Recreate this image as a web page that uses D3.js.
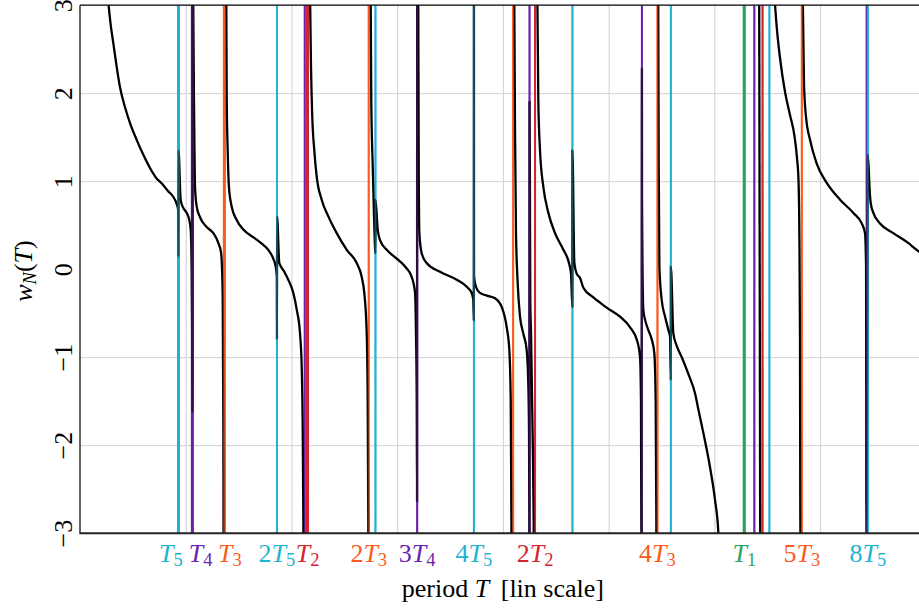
<!DOCTYPE html>
<html>
<head>
<meta charset="utf-8">
<script src="https://cdn.jsdelivr.net/npm/d3@7"></script>
<style>
  body { margin: 0; background: #fff; }
  svg { display: block; font-family: "Liberation Serif", "Times New Roman", serif; }
</style>
</head>
<body>
<svg id="chart" width="919" height="614"></svg>
<script>
// mode periods (T1 = 2*pi)
var modeNames = ["1", "2", "3", "4", "5"];
var periods = [6.283, 2.152, 1.3655, 1.063, 0.9315];
var modeColors = ["#2ea25e", "#d5232f", "#fb5a1c", "#6b22b0", "#1eb4d2"];
var maxMultiple = [1, 3, 5, 7, 8];

// which multiples get a label under the axis: [mode index, multiple]
var xLabels = [[4,1],[3,1],[2,1],[4,2],[1,1],[2,2],[3,3],[4,4],[1,2],[2,4],[0,1],[2,5],[4,8]];

var yTicks = [-3, -2, -1, 0, 1, 2, 3];
var gridT = [1, 2, 3, 4, 5, 6, 7];
var gridW = [-2, -1, 1, 2];

// w_N(T), branch by branch between the poles
var curveBranches = [
  [[0.262,3.1],[0.293,2.75],[0.315,2.57],[0.347,2.30],[0.378,2.07],[0.426,1.84],[0.473,1.66],[0.536,1.47],[0.599,1.30],[0.662,1.15],[0.719,1.04],[0.776,0.97],[0.832,0.89],[0.883,0.82],[0.915,0.74],[0.929,0.67],[0.931,0.14],[0.932,1.35],[0.952,0.79],[0.971,0.71],[1.009,0.64],[1.034,0.56],[1.047,0.45],[1.056,0.03],[1.061,-0.72],[1.063,-1.62],[1.064,3.2]],
  [[1.070,3.2],[1.078,1.92],[1.083,1.35],[1.088,0.93],[1.104,0.71],[1.135,0.59],[1.198,0.48],[1.261,0.41],[1.308,0.30],[1.334,0.19],[1.343,0.02],[1.350,-0.35],[1.353,-1.11],[1.356,-1.86],[1.358,-3.2]],
  [[1.383,3.2],[1.388,1.92],[1.397,1.35],[1.409,0.93],[1.435,0.71],[1.482,0.56],[1.545,0.45],[1.655,0.35],[1.719,0.29],[1.781,0.22],[1.828,0.12],[1.851,0.03],[1.862,-0.09],[1.863,-0.80],[1.864,0.60],[1.885,0.07],[1.923,-0.01],[1.970,-0.12],[2.018,-0.27],[2.050,-0.46],[2.081,-0.73],[2.097,-1.11],[2.107,-1.86],[2.112,-2.77],[2.114,-3.2]],
  [[2.175,3.2],[2.185,2.30],[2.197,1.73],[2.216,1.35],[2.239,1.05],[2.286,0.79],[2.349,0.60],[2.428,0.41],[2.523,0.22],[2.617,0.07],[2.665,-0.09],[2.689,-0.27],[2.712,-0.73],[2.721,-1.49],[2.727,-3.0],[2.728,-3.2]],
  [[2.749,3.2],[2.755,1.92],[2.769,1.16],[2.781,0.60],[2.790,0.26],[2.7945,0.18],[2.795,0.79],[2.816,0.45],[2.838,0.33],[2.901,0.22],[2.996,0.12],[3.074,0.03],[3.138,-0.09],[3.169,-0.27],[3.178,-0.73],[3.185,-1.49],[3.188,-2.64],[3.189,3.2]],
  [[3.199,3.2],[3.204,1.16],[3.210,0.41],[3.232,0.18],[3.279,0.07],[3.405,-0.03],[3.563,-0.12],[3.658,-0.20],[3.705,-0.27],[3.720,-0.35],[3.725,-0.58],[3.726,3.2],[3.727,-0.08],[3.745,-0.20],[3.784,-0.27],[3.847,-0.30],[3.925,-0.33],[3.989,-0.43],[4.036,-0.66],[4.061,-0.92],[4.074,-1.49],[4.080,-2.77],[4.082,-3.2]],
  [[4.107,3.2],[4.115,1.55],[4.124,0.41],[4.140,-0.16],[4.162,-0.54],[4.193,-0.73],[4.225,-0.92],[4.240,-1.29],[4.247,-1.86],[4.250,-2.77],[4.251,-3.2],[4.252,1.90],[4.256,0.79],[4.259,-0.35],[4.266,-0.73],[4.276,-1.49],[4.285,-2.17],[4.292,-3.0],[4.294,-3.2]],
  [[4.325,3.2],[4.335,1.92],[4.351,1.35],[4.382,0.94],[4.430,0.64],[4.493,0.41],[4.572,0.22],[4.625,0.07],[4.644,-0.05],[4.657,-0.43],[4.6575,1.35],[4.676,0.07],[4.698,-0.05],[4.730,-0.10],[4.761,-0.21],[4.855,-0.32],[4.919,-0.38],[4.985,-0.44],[5.108,-0.54],[5.203,-0.66],[5.269,-0.81],[5.297,-1.00],[5.306,-1.49],[5.309,-2.77],[5.311,-3.2],[5.315,2.28],[5.316,0.79],[5.328,-0.46],[5.344,-0.57],[5.375,-0.69],[5.408,-0.80],[5.432,-0.95],[5.445,-1.49],[5.451,-2.77],[5.452,-3.2]],
  [[5.469,3.2],[5.474,1.16],[5.480,0.03],[5.502,-0.35],[5.534,-0.54],[5.565,-0.69],[5.581,-0.77],[5.5885,-1.26],[5.589,0.03],[5.612,-0.73],[5.644,-0.87],[5.692,-1.00],[5.754,-1.19],[5.817,-1.41],[5.850,-1.60],[5.896,-1.86],[5.959,-2.25],[6.006,-2.62],[6.038,-3.0],[6.045,-3.2]],
  [[6.424,3.2],[6.434,-3.2]],
  [[6.563,3.2],[6.590,2.75],[6.621,2.40],[6.669,2.01],[6.716,1.75],[6.757,1.52],[6.782,1.26],[6.796,1.01],[6.804,0.41],[6.810,-0.73],[6.813,-2.77],[6.815,-3.2]],
  [[6.835,3.2],[6.848,2.11],[6.867,1.73],[6.905,1.47],[6.968,1.20],[7.063,0.98],[7.189,0.79],[7.315,0.64],[7.394,0.52],[7.425,0.41],[7.435,0.03],[7.437,-1.49],[7.438,-3.2],[7.452,1.30],[7.469,0.90],[7.479,0.75],[7.504,0.64],[7.567,0.52],[7.693,0.41],[7.820,0.31],[7.936,0.20],[8.0,0.15]]
];

var svg = d3.select("#chart");
var x = d3.scaleLinear().domain([0, 8]).range([80, 925.8]);
var y = d3.scaleLinear().domain([-3, 3]).range([533.2, 5.2]);
var plotW = x(8) - x(0), plotH = y(-3) - y(3);

svg.append("defs").append("clipPath").attr("id", "plotClip")
  .append("rect")
  .attr("x", x(0)).attr("y", y(3))
  .attr("width", plotW).attr("height", plotH);

// grid
var gx = svg.append("g")
  .attr("transform", "translate(0," + y(-3) + ")")
  .call(d3.axisBottom(x).tickValues(gridT).tickSize(-plotH).tickFormat(""));
gx.select(".domain").remove();
gx.selectAll("line").attr("stroke", "#d0d0d0").attr("stroke-width", 1);

var gy = svg.append("g")
  .attr("transform", "translate(" + x(0) + ",0)")
  .call(d3.axisLeft(y).tickValues(gridW).tickSize(-plotW).tickFormat(""));
gy.select(".domain").remove();
gy.selectAll("line").attr("stroke", "#d0d0d0").attr("stroke-width", 1);

// vertical lines at the multiples of each period
var modeLines = [];
periods.forEach(function(T, i) {
  for (var m = 1; m <= maxMultiple[i]; m++) {
    modeLines.push({ mode: i, m: m, T: m * T });
  }
});

function drawModeLines(g, opacity) {
  g.selectAll("line")
    .data(modeLines)
    .enter()
    .append("line")
    .attr("x1", function(d) { return x(d.T); })
    .attr("x2", function(d) { return x(d.T); })
    .attr("y1", y(-3))
    .attr("y2", y(3))
    .attr("stroke", function(d) { return modeColors[d.mode]; })
    .attr("stroke-width", function(d) { return d.m == 1 ? 3 : 2; })
    .attr("stroke-opacity", opacity);
}

var plot = svg.append("g").attr("clip-path", "url(#plotClip)");
drawModeLines(plot.append("g"), 1);

var line = d3.line()
  .x(function(d) { return x(d[0]); })
  .y(function(d) { return y(d[1]); })
  .curve(d3.curveMonotoneX);

plot.append("g")
  .selectAll("path")
  .data(curveBranches)
  .enter()
  .append("path")
  .attr("d", line)
  .attr("fill", "none")
  .attr("stroke", "#000")
  .attr("stroke-width", 2.3)
  .attr("stroke-linejoin", "round");

// lines again, see-through, so the spikes under them look tinted
drawModeLines(plot.append("g"), 0.45);

// frame
svg.append("line").attr("x1", x(0)).attr("x2", x(8)).attr("y1", y(3)).attr("y2", y(3))
  .attr("stroke", "#000").attr("stroke-width", 1.3);
svg.append("line").attr("x1", x(0)).attr("x2", x(0)).attr("y1", y(3)).attr("y2", y(-3))
  .attr("stroke", "#000").attr("stroke-width", 1.2);
svg.append("line").attr("x1", x(0) - 0.6).attr("x2", x(8)).attr("y1", y(-3)).attr("y2", y(-3))
  .attr("stroke", "#222").attr("stroke-width", 2);

// y tick labels, turned on their side
var ya = svg.append("g")
  .attr("transform", "translate(" + x(0) + ",0)")
  .call(d3.axisLeft(y).tickValues(yTicks).tickSize(0)
    .tickFormat(function(d) { return d < 0 ? "\u2212" + (-d) : String(d); }));
ya.select(".domain").remove();
ya.attr("font-family", null).attr("font-size", null);
ya.selectAll("text")
  .attr("x", 0).attr("dy", null)
  .attr("text-anchor", "middle")
  .attr("transform", "translate(-8.3,0) rotate(-90)")
  .attr("fill", "#000")
  .style("font-size", "26px");

// y title  w_N(T)
var yt = svg.append("text")
  .attr("transform", "translate(32,271) rotate(-90)")
  .attr("text-anchor", "middle")
  .style("font-size", "26px");
yt.append("tspan").attr("font-style", "italic").text("w");
yt.append("tspan").attr("font-style", "italic").attr("dy", 3.8).style("font-size", "18.5px").text("N");
yt.append("tspan").attr("dy", -3.8).text("(");
yt.append("tspan").attr("font-style", "italic").text("T");
yt.append("tspan").text(")");

// period labels under the axis
var labelNudge = { "4-1": -7.5, "3-1": 8.3, "2-1": 5.6 };
xLabels.forEach(function(l) {
  var mode = l[0], m = l[1];
  var nudge = labelNudge[mode + "-" + m] || 0;
  var t = svg.append("text")
    .attr("x", x(m * periods[mode]) + nudge)
    .attr("y", 561.7)
    .attr("text-anchor", "middle")
    .attr("fill", modeColors[mode])
    .style("font-size", "26px");
  if (m > 1) t.append("tspan").text(m);
  t.append("tspan").attr("font-style", "italic").text("T");
  t.append("tspan").attr("dy", 3.8).style("font-size", "18.5px").text(modeNames[mode]);
});

// x title
var xt = svg.append("text")
  .attr("x", (x(0) + x(8)) / 2)
  .attr("y", 597)
  .attr("text-anchor", "middle")
  .style("font-size", "26px");
xt.append("tspan").text("period ");
xt.append("tspan").attr("font-style", "italic").text("T");
xt.append("tspan").attr("dx", 5).text(" [lin scale]");
</script>
</body>
</html>
